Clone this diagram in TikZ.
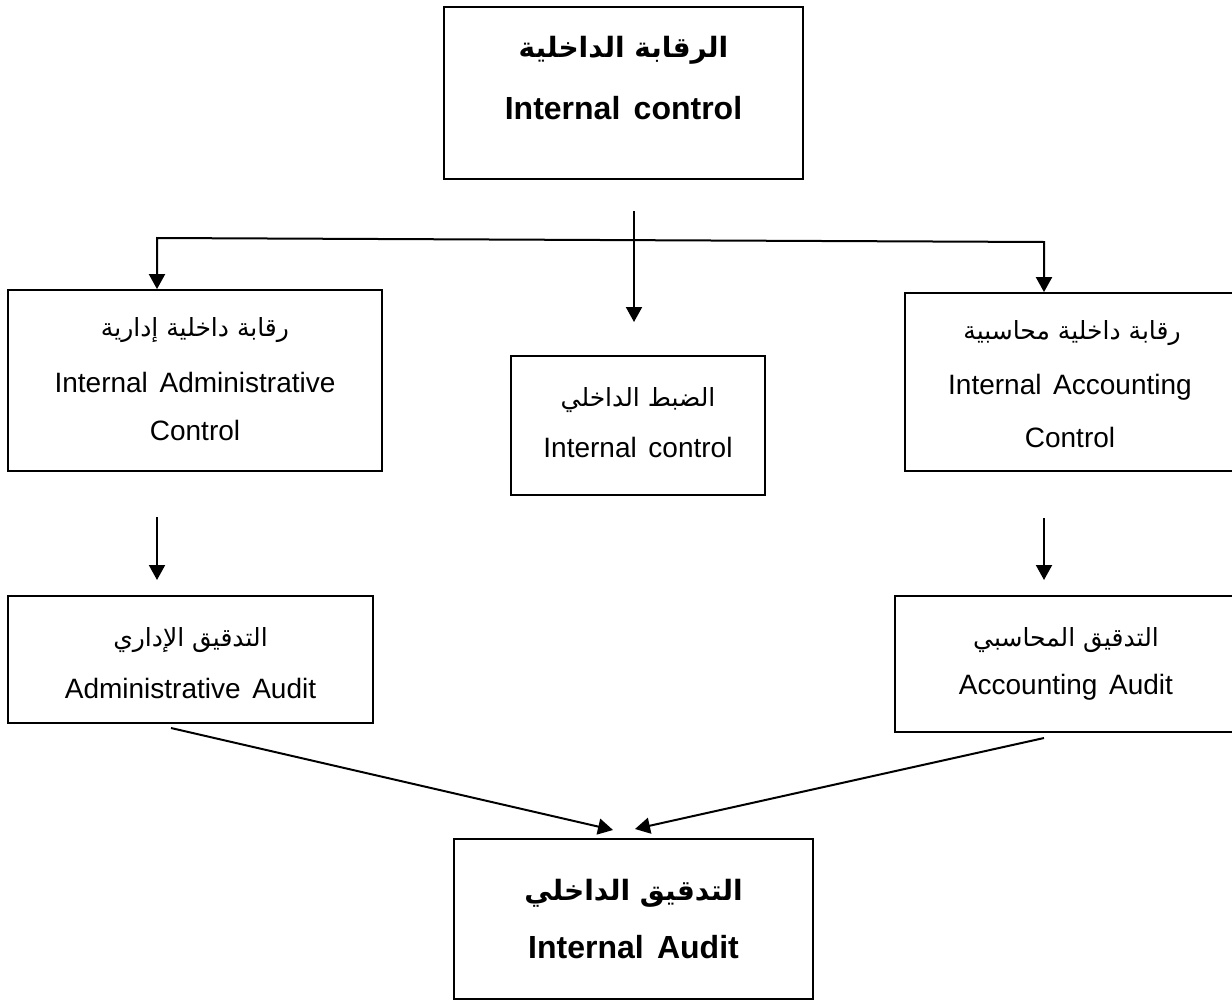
\documentclass[tikz,border=0pt]{standalone}
\usepackage{fontspec}
\setmainfont[WordSpace=1.5]{Liberation Sans}
\newfontfamily\arabicfont[Script=Arabic]{DejaVu Sans}
\TeXXeTstate=1
\usetikzlibrary{arrows.meta}

\begin{document}
\begin{tikzpicture}[x=0.5pt, y=-0.5pt,
		box_style/.style={draw, line width=0.9pt, inner sep=0pt},
		line_style/.style={line width=1pt, -{Triangle[width=8pt,length=7.5pt]}},
		en_style/.style={font=\fontsize{14}{16}\selectfont, inner sep=0pt},
		ar_style/.style={font=\arabicfont\fontsize{12.5}{16}\selectfont, inner sep=0pt}]
	\useasboundingbox (0,0) rectangle (1232,1001);
	% boxes
	\node[box_style, minimum width=179.5pt, minimum height=86pt] (ctrl) at (623.5,93) {};
	\node[box_style, minimum width=187pt, minimum height=90.5pt] (admin) at (195,380.5) {};
	\node[box_style, minimum width=127pt, minimum height=69.5pt] (inner) at (638,425.5) {};
	\node[box_style, minimum width=165.5pt, minimum height=89pt] (acct) at (1070.5,382) {};
	\node[box_style, minimum width=182.5pt, minimum height=63.5pt] (admaud) at (190.5,659.5) {};
	\node[box_style, minimum width=170.5pt, minimum height=68pt] (accaud) at (1065.5,664) {};
	\node[box_style, minimum width=179.5pt, minimum height=80pt] (audit) at (633.5,919) {};
	
	% texts
	\node[ar_style, font=\arabicfont\bfseries\fontsize{14}{16}\selectfont] (ctrl_ar) at (623.5,50) {\beginR الرقابة الداخلية\endR};
	\node[en_style, font=\bfseries\fontsize{16}{18}\selectfont] (ctrl_en) at (623.5,108) {Internal control};
	\node[ar_style] (admin_ar) at (195,330) {\beginR رقابة داخلية إدارية\endR};
	\node[en_style] (admin_en) at (195,382) {Internal Administrative};
	\node[en_style] (admin_en2) at (195,430) {Control};
	\node[ar_style] (inner_ar) at (638,400) {\beginR الضبط الداخلي\endR};
	\node[en_style] (inner_en) at (638,447) {Internal control};
	\node[ar_style] (acct_ar) at (1072,333) {\beginR رقابة داخلية محاسبية\endR};
	\node[en_style] (acct_en) at (1070,387) {Internal Accounting};
	\node[en_style] (acct_en2) at (1070,437) {Control};
	\node[ar_style] (admaud_ar) at (190.5,640) {\beginR التدقيق الإداري\endR};
	\node[en_style] (admaud_en) at (190.5,688) {Administrative Audit};
	\node[ar_style] (accaud_ar) at (1066,640) {\beginR التدقيق المحاسبي\endR};
	\node[en_style] (accaud_en) at (1066,687) {Accounting Audit};
	\node[ar_style, font=\arabicfont\bfseries\fontsize{14}{16}\selectfont] (audit_ar) at (633.5,893) {\beginR التدقيق الداخلي\endR};
	\node[en_style, font=\bfseries\fontsize{16}{18}\selectfont] (audit_en) at (633.5,947) {Internal Audit};
	
	% connector ends
	\coordinate (split_top) at (634,211);
	\coordinate (split_tip) at (634,322);
	\coordinate (bar_l) at (157,238);
	\coordinate (bar_r) at (1044,242);
	\coordinate (adm_a) at (157,517);
	\coordinate (adm_b) at (157,580);
	\coordinate (acc_a) at (1044,518);
	\coordinate (acc_b) at (1044,580);
	\coordinate (adm_d) at (171,728);
	\coordinate (aud_l) at (613,830);
	\coordinate (acc_d) at (1044,738);
	\coordinate (aud_r) at (635,829);
	
	\draw[line_style] (split_top) -- (split_tip);
	\draw[line_style, {Triangle[width=8pt,length=7.5pt]}-{Triangle[width=8pt,length=7.5pt]}] (bar_l |- admin.north) -- (bar_l) -- (bar_r) -- (bar_r |- acct.north);
	\draw[line_style] (adm_a) -- (adm_b);
	\draw[line_style] (acc_a) -- (acc_b);
	\draw[line_style] (adm_d) -- (aud_l);
	\draw[line_style] (acc_d) -- (aud_r);
\end{tikzpicture}
\end{document}
